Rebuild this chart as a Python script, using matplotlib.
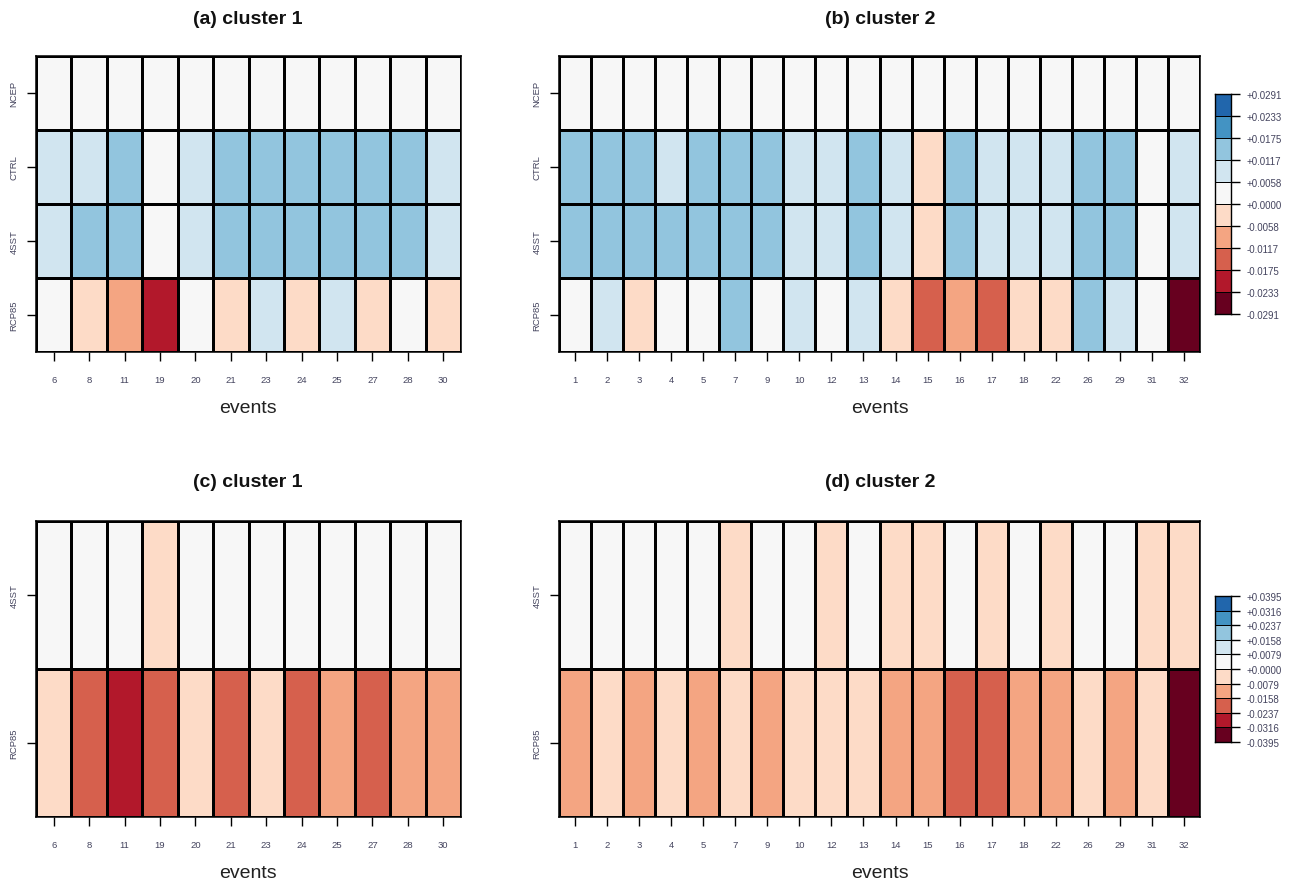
import matplotlib
matplotlib.use('Agg')
import matplotlib.pyplot as plt
from matplotlib.colors import ListedColormap, BoundaryNorm
import numpy as np

plt.rcParams['font.family'] = ['Liberation Sans', 'DejaVu Sans']

W, H = 1293, 887

# RdBu palette, dark red -> blue (10 classes)
palette = ['#67001F', '#B2182B', '#D6604D', '#F4A582', '#FDDBC7',
           '#F7F7F7', '#D1E5F0', '#92C5DE', '#4393C3', '#2166AC']

# colour class boundaries shown on the two legends
bounds_top = [-0.0291, -0.0233, -0.0175, -0.0117, -0.0058, 0.0,
              0.0058, 0.0117, 0.0175, 0.0233, 0.0291]
bounds_bot = [-0.0395, -0.0316, -0.0237, -0.0158, -0.0079, 0.0,
              0.0079, 0.0158, 0.0237, 0.0316, 0.0395]

events_c1 = [6, 8, 11, 19, 20, 21, 23, 24, 25, 27, 28, 30]
events_c2 = [1, 2, 3, 4, 5, 7, 9, 10, 12, 13, 14, 15, 16, 17, 18, 22, 26, 29, 31, 32]

rows_top = ['NCEP', 'CTRL', '4SST', 'RCP85']
rows_bot = ['4SST', 'RCP85']

# (a) cluster 1
a_ncep = [0.003, 0.002, 0.003, 0.002, 0.003, 0.002, 0.003, 0.002, 0.003, 0.002, 0.003, 0.002]
a_ctrl = [0.009, 0.009, 0.014, 0.003, 0.009, 0.014, 0.015, 0.014, 0.015, 0.014, 0.014, 0.009]
a_4sst = [0.009, 0.013, 0.014, 0.002, 0.009, 0.014, 0.015, 0.014, 0.015, 0.014, 0.014, 0.009]
a_rcp85 = [0.002, -0.003, -0.009, -0.021, 0.002, -0.003, 0.008, -0.003, 0.008, -0.003, 0.002, -0.003]

# (b) cluster 2
b_ncep = [0.002] * 20
b_ctrl = [0.014, 0.014, 0.014, 0.009, 0.014, 0.014, 0.014, 0.009, 0.009, 0.014,
          0.009, -0.003, 0.014, 0.009, 0.009, 0.009, 0.014, 0.014, 0.003, 0.009]
b_4sst = [0.014, 0.014, 0.014, 0.013, 0.014, 0.014, 0.014, 0.009, 0.009, 0.014,
          0.009, -0.003, 0.014, 0.009, 0.009, 0.009, 0.014, 0.014, 0.003, 0.009]
b_rcp85 = [0.002, 0.008, -0.003, 0.002, 0.002, 0.013, 0.002, 0.008, 0.002, 0.008,
           -0.003, -0.015, -0.010, -0.015, -0.003, -0.003, 0.013, 0.008, 0.002, -0.028]

# (c) cluster 1
c_4sst = [0.003, 0.003, 0.002, -0.004, 0.003, 0.003, 0.002, 0.003, 0.003, 0.002, 0.003, 0.003]
c_rcp85 = [-0.005, -0.020, -0.027, -0.019, -0.005, -0.019, -0.006, -0.020, -0.013, -0.019, -0.012, -0.013]

# (d) cluster 2
d_4sst = [0.003, 0.003, 0.002, 0.003, 0.003, -0.003, 0.003, 0.002, -0.003, 0.003,
          -0.004, -0.004, 0.002, -0.003, 0.003, -0.004, 0.002, 0.003, -0.004, -0.004]
d_rcp85 = [-0.012, -0.006, -0.012, -0.006, -0.012, -0.006, -0.012, -0.006, -0.006, -0.006,
           -0.012, -0.012, -0.019, -0.019, -0.012, -0.012, -0.006, -0.012, -0.006, -0.036]

lab_col = '#44445e'
cmap = ListedColormap(palette)


def px_axes(fig, x0, y0, x1, y1):
    return fig.add_axes([x0 / W, 1 - y1 / H, (x1 - x0) / W, (y1 - y0) / H])


def heat(ax, data, rows, events, bounds):
    norm = BoundaryNorm(bounds, cmap.N)
    ax.pcolormesh(np.array(data), cmap=cmap, norm=norm,
                  edgecolors='black', linewidth=0.75)
    ax.set_xlim(0, len(events))
    ax.set_ylim(len(rows), 0)
    ax.set_xticks(np.arange(len(events)) + 0.5)
    ax.set_xticklabels([str(e) for e in events], fontsize=6.8, color=lab_col)
    ax.set_yticks(np.arange(len(rows)) + 0.5)
    ax.set_yticklabels(rows, fontsize=6.8, color=lab_col, rotation=90, va='center')
    ax.tick_params(axis='x', length=6.5, width=1, pad=10)
    ax.tick_params(axis='y', length=6.5, width=1, pad=6)
    for s in ax.spines.values():
        s.set_linewidth(1.1)


def legend_bar(fig, x0, y0, x1, y1, bounds):
    cax = px_axes(fig, x0, y0, x1, y1)
    norm = BoundaryNorm(bounds, cmap.N)
    mids = (np.array(bounds[:-1]) + np.array(bounds[1:])) / 2
    cax.pcolormesh([0, 1], bounds, mids.reshape(-1, 1), cmap=cmap, norm=norm,
                   edgecolors='black', linewidth=0.5)
    cax.set_xlim(0, 1)
    cax.set_ylim(bounds[0], bounds[-1])
    cax.set_xticks([])
    cax.yaxis.tick_right()
    cax.set_yticks(bounds)
    cax.set_yticklabels(['%+.4f' % b for b in bounds], fontsize=7, color=lab_col)
    cax.tick_params(axis='y', length=6.5, width=1, pad=5)
    for s in cax.spines.values():
        s.set_linewidth(1.0)


fig = plt.figure(figsize=(W / 100, H / 100), dpi=100)

ax_a = px_axes(fig, 36, 57, 461, 353)
heat(ax_a, [a_ncep, a_ctrl, a_4sst, a_rcp85], rows_top, events_c1, bounds_top)
ax_b = px_axes(fig, 559, 57, 1200, 353)
heat(ax_b, [b_ncep, b_ctrl, b_4sst, b_rcp85], rows_top, events_c2, bounds_top)
ax_c = px_axes(fig, 36, 522, 461, 818)
heat(ax_c, [c_4sst, c_rcp85], rows_bot, events_c1, bounds_bot)
ax_d = px_axes(fig, 559, 522, 1200, 818)
heat(ax_d, [d_4sst, d_rcp85], rows_bot, events_c2, bounds_bot)

legend_bar(fig, 1215, 95, 1231, 315, bounds_top)
legend_bar(fig, 1215, 597, 1231, 743, bounds_bot)

titles = [('(a) cluster 1', 248, 20), ('(b) cluster 2', 880, 20),
          ('(c) cluster 1', 248, 483), ('(d) cluster 2', 880, 483)]
for t, x, y in titles:
    fig.text(x / W, 1 - y / H, t, ha='center', va='center',
             fontsize=14, fontweight='bold', color='#111111')
for x, y in [(248, 409), (880, 409), (248, 874), (880, 874)]:
    fig.text(x / W, 1 - y / H, 'events', ha='center', va='center',
             fontsize=14, color='#222222')

fig.savefig('out.png', dpi=100)
